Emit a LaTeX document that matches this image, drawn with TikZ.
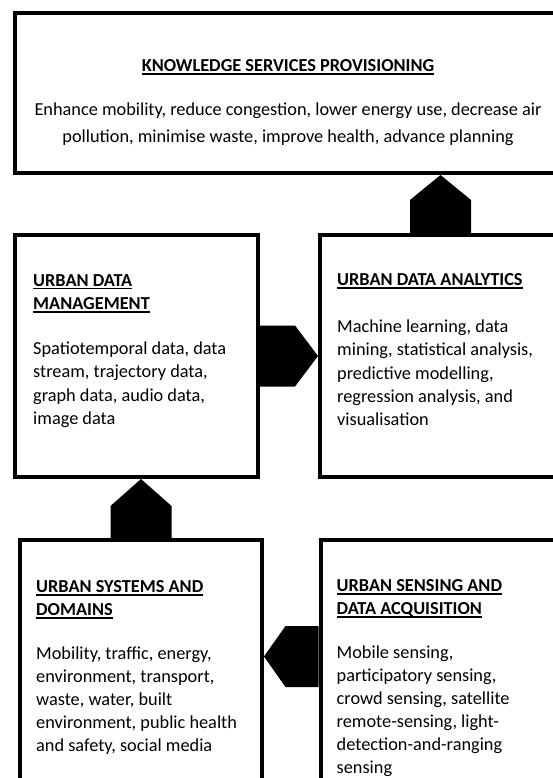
\documentclass[tikz,border=0pt]{standalone}
\usepackage{fontspec}
\setmainfont{Carlito}
\usetikzlibrary{positioning,calc}
\newcommand{\headline}[1]{\setbox0=\hbox{\color{black}\bfseries #1}\rlap{\color{black}\rule[-3.4pt]{\wd0}{1.6pt}}\box0}
\tikzset{
	panel/.style={draw, line width=4pt, inner sep=0pt, minimum width=242pt, minimum height=242pt},
	blocktext/.style={anchor=north west, inner sep=0pt, align=left, text=black!80, font=\fontsize{18.3}{23.3}\selectfont},
	blockarrow/.style={fill=black}
}
\begin{document}
\begin{tikzpicture}[x=1pt,y=-1pt]
	\useasboundingbox (0,0) rectangle (553,778);
	\clip (0,0) rectangle (553,778);
	\node[panel, minimum width=546pt, minimum height=160pt] (ksp) at (288,93) {};
	\node[panel, minimum width=243pt] (udm) at (136.5,356) {};
	\node[panel, minimum width=241pt] (uda) at (440.5,356) {};
	\node[panel] (usd) at (141,661) {};
	\node[panel] (usa) at (441.5,661) {};
	\node[blocktext, anchor=north, align=center, font=\fontsize{18.3}{27}\selectfont, below=48pt of ksp.north] (ksptext)
		{\headline{KNOWLEDGE SERVICES PROVISIONING}\\[17pt]
		Enhance mobility, reduce congestion, lower energy use, decrease air\\
		pollution, minimise waste, improve health, advance planning};
	\node[blocktext, below right=41pt and 20pt of udm.north west] (udmtext)
		{\headline{URBAN DATA}\\\headline{MANAGEMENT}\\[22pt]
		Spatiotemporal data, data\\stream, trajectory data,\\graph data, audio data,\\image data};
	\node[blocktext, below right=40pt and 19pt of uda.north west] (udatext)
		{\headline{URBAN DATA ANALYTICS}\\[24pt]
		Machine learning, data\\mining, statistical analysis,\\predictive modelling,\\regression analysis, and\\visualisation};
	\node[blocktext, font=\fontsize{18.3}{23}\selectfont, below right=42pt and 18pt of usd.north west] (usdtext)
		{\headline{URBAN SYSTEMS AND}\\\headline{DOMAINS}\\[21pt]
		Mobility, traffic, energy,\\environment, transport,\\waste, water, built\\environment, public health\\and safety, social media};
	\node[blocktext, font=\fontsize{18.3}{23}\selectfont, below right=41pt and 18pt of usa.north west] (usatext)
		{\headline{URBAN SENSING AND}\\\headline{DATA ACQUISITION}\\[21pt]
		Mobile sensing,\\participatory sensing,\\crowd sensing, satellite\\remote-sensing, light-\\detection-and-ranging\\sensing};
	\coordinate (usdtip) at ($(usd.east)+(0,-4.5)$);
	\fill[blockarrow] ($(usd.north)+(-30.5,0)$) -- ++(0,-32) -- (udm.south -| usd.north) -- ($(usd.north)+(30.5,-32)$) -- ++(0,32) -- cycle;
	\fill[blockarrow] ($(udm.east)+(0,-30.5)$) -- ++(35,0) -- (uda.west) -- ($(udm.east)+(35,30.5)$) -- ++(-35,0) -- cycle;
	\fill[blockarrow] ($(uda.north)+(-30.5,0)$) -- ++(0,-33) -- (uda.north |- ksp.south) -- ($(uda.north)+(30.5,-33)$) -- ++(0,33) -- cycle;
	\fill[blockarrow] ($(usa.west)+(0,-35)$) -- ++(-33,0) -- (usdtip) -- ($(usa.west)+(-33,26)$) -- ++(33,0) -- cycle;
\end{tikzpicture}
\end{document}
